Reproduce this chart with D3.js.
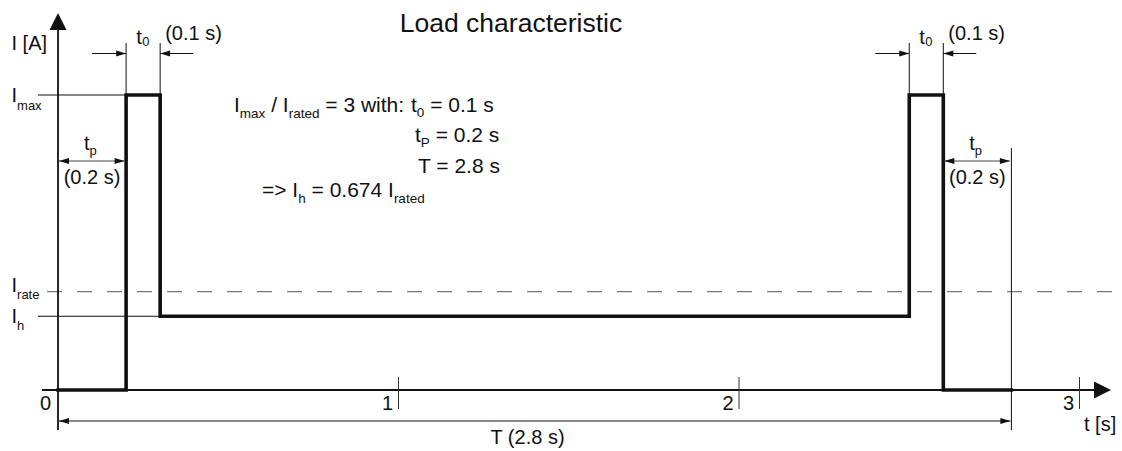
<!DOCTYPE html>
<html>
<head>
<meta charset="utf-8">
<script src="https://cdn.jsdelivr.net/npm/d3@7"></script>
<style>
  html, body { margin: 0; padding: 0; background: #fff; }
  svg text { font-family: "Liberation Sans", Arial, sans-serif; fill: #111; white-space: pre; }
</style>
</head>
<body>
<svg id="chart" width="1122" height="451"></svg>
<script>
// ---------- data ----------
const title = "Load characteristic";
const timeTicks = [0, 1, 2, 3];
const timeTickLabels = ["0", "1", "2", "3"];
// load current profile (multiples of I_rated), step curve
const loadTimes    = [0, 0.2, 0.2, 0.3, 0.3, 2.5, 2.5, 2.6, 2.6, 2.8];
const loadCurrents = [0, 0,   3,   3,   0.75, 0.75, 3,  3,   0,   0];
// reference levels
const levelNames  = ["max", "rate", "h"];
const levelValues = [3, 1, 0.75];
// timing parameters
const t0 = 0.1, tp = 0.2, T = 2.8;
const pulseStarts = [0.2, 2.5];

// ---------- scales ----------
const svg = d3.select("#chart");
const x = d3.scaleLinear().domain([0, 3]).range([58, 1079.5]);
const y = d3.scaleLinear().domain([0, 3]).range([390, 95]);

const FS = 20, SUB = 13;

function richText(g, xx, yy, parts, size, subSize, subDy, anchor) {
  const t = g.append("text").attr("x", xx).attr("y", yy)
    .attr("font-size", size).attr("text-anchor", anchor || "start");
  let shifted = false;
  parts.forEach(p => {
    const isSub = Array.isArray(p);
    const txt = isSub ? p[0] : p;
    const ts = t.append("tspan").text(txt);
    if (isSub) {
      ts.attr("font-size", subSize);
      if (!shifted) { ts.attr("dy", subDy); shifted = true; }
    } else if (shifted) {
      ts.attr("dy", -subDy); shifted = false;
    }
  });
  return t;
}

function arrowHead(g, px, py, dir, len, hw) {
  len = len || 10; hw = hw || 3;
  let pts;
  if (dir === "right") pts = [[px, py], [px - len, py - hw], [px - len, py + hw]];
  else if (dir === "left") pts = [[px, py], [px + len, py - hw], [px + len, py + hw]];
  else if (dir === "up") pts = [[px, py], [px - hw, py + len], [px + hw, py + len]];
  g.append("path").attr("d", d3.line()(pts) + "Z").attr("fill", "#111");
}

const g = svg.append("g");

// ---------- reference level lines ----------
// I_max thin line
g.append("line").attr("x1", 38).attr("x2", x(pulseStarts[0]))
  .attr("y1", y(levelValues[0])).attr("y2", y(levelValues[0]))
  .attr("stroke", "#111").attr("stroke-width", 1);
// I_rated dashed
g.append("line").attr("x1", 47).attr("x2", 1112)
  .attr("y1", y(levelValues[1])).attr("y2", y(levelValues[1]))
  .attr("stroke", "#777").attr("stroke-width", 1.3).attr("stroke-dasharray", "15,15");
// I_h thin line
g.append("line").attr("x1", 38).attr("x2", x(pulseStarts[0] + t0))
  .attr("y1", y(levelValues[2])).attr("y2", y(levelValues[2]))
  .attr("stroke", "#111").attr("stroke-width", 1);

// ---------- axes ----------
// x axis line
g.append("line").attr("x1", 42).attr("x2", 1096)
  .attr("y1", y(0)).attr("y2", y(0)).attr("stroke", "#111").attr("stroke-width", 1.8);
arrowHead(g, 1111, y(0), "right", 17, 8.5);
// y axis line
g.append("line").attr("x1", x(0)).attr("x2", x(0))
  .attr("y1", 28).attr("y2", 430).attr("stroke", "#111").attr("stroke-width", 1.8);
arrowHead(g, x(0), 13, "up", 17, 8.5);

// ticks
g.selectAll(".tick").data(timeTicks.filter(d => d > 0)).join("line")
  .attr("x1", d => x(d)).attr("x2", d => x(d))
  .attr("y1", 377).attr("y2", 409).attr("stroke", "#333").attr("stroke-width", 1);
g.selectAll(".ticklab").data(timeTicks).join("text")
  .attr("x", d => d === 0 ? x(d) - 7 : x(d) - 5.5)
  .attr("y", 410).attr("font-size", FS).attr("text-anchor", "end")
  .text((d, i) => timeTickLabels[i]);

g.append("text").attr("x", 1084).attr("y", 431).attr("font-size", FS).text("t [s]");
g.append("text").attr("x", 11.5).attr("y", 50).attr("font-size", FS).text("I [A]");

// level labels
richText(g, 11.5, 102, ["I", ["max"]], FS, SUB, 8);
richText(g, 11.5, 291.5, ["I", ["rate"]], FS, SUB, 7.5);
richText(g, 11.5, 323, ["I", ["h"]], FS, SUB, 7);

// ---------- load curve ----------
const pts = loadTimes.map((t, i) => [x(t), y(loadCurrents[i])]);
g.append("path").attr("d", d3.line()(pts))
  .attr("fill", "none").attr("stroke", "#111").attr("stroke-width", 3.6)
  .attr("stroke-linejoin", "miter").attr("stroke-linecap", "square");

// ---------- t0 dimensions ----------
pulseStarts.forEach(ps => {
  const xa = x(ps), xb = x(ps + t0);
  [xa, xb].forEach(xx => g.append("line").attr("x1", xx).attr("x2", xx)
    .attr("y1", 43).attr("y2", y(levelValues[0])).attr("stroke", "#111").attr("stroke-width", 1));
  const ay = 53.5;
  g.append("line").attr("x1", xa - 34).attr("x2", xa).attr("y1", ay).attr("y2", ay)
    .attr("stroke", "#111").attr("stroke-width", 1);
  arrowHead(g, xa, ay, "right");
  g.append("line").attr("x1", xb).attr("x2", xb + 33).attr("y1", ay).attr("y2", ay)
    .attr("stroke", "#111").attr("stroke-width", 1);
  arrowHead(g, xb, ay, "left");
  const tx = (xa + xb) / 2 - 7;
  g.append("text").attr("x", tx).attr("y", 43.5).attr("font-size", FS).text("t");
  g.append("text").attr("x", tx + 6).attr("y", 45.5).attr("font-size", SUB).text("0");
  g.append("text").attr("x", xb + 5).attr("y", 40).attr("font-size", FS).text("(" + t0 + " s)");
});

// ---------- tp dimensions ----------
const tpSpans = [[0, pulseStarts[0]], [pulseStarts[1] + t0, T]];
// extension line at T
g.append("line").attr("x1", x(T)).attr("x2", x(T)).attr("y1", 148).attr("y2", 430)
  .attr("stroke", "#111").attr("stroke-width", 1);
tpSpans.forEach(([a, b]) => {
  const xa = x(a) + 1, xb = x(b) - 1.5, ay = 161;
  g.append("line").attr("x1", xa).attr("x2", xb).attr("y1", ay).attr("y2", ay)
    .attr("stroke", "#444").attr("stroke-width", 1.2);
  arrowHead(g, xa, ay, "left");
  arrowHead(g, xb, ay, "right");
  const cx = (x(a) + x(b)) / 2;
  g.append("text").attr("x", cx - 8).attr("y", 150).attr("font-size", FS).text("t");
  g.append("text").attr("x", cx - 2.5).attr("y", 155).attr("font-size", SUB).text("p");
  g.append("text").attr("x", cx).attr("y", 184).attr("font-size", FS)
    .attr("text-anchor", "middle").text("(" + tp + " s)");
});

// ---------- T dimension ----------
{
  const xa = x(0) + 1, xb = x(T) - 1, ay = 421;
  g.append("line").attr("x1", xa).attr("x2", xb).attr("y1", ay).attr("y2", ay)
    .attr("stroke", "#111").attr("stroke-width", 1);
  arrowHead(g, xa, ay, "left");
  arrowHead(g, xb, ay, "right");
  g.append("text").attr("x", 527.5).attr("y", 444).attr("font-size", FS)
    .attr("text-anchor", "middle").text("T (" + T + " s)");
}

// ---------- title ----------
g.append("text").attr("x", 511).attr("y", 31.5).attr("font-size", 26.5)
  .attr("text-anchor", "middle").text(title);

// ---------- text block ----------
const BF = 21, BS = 13.5;
richText(g, 234, 111.5, ["I", ["max"], " / I", ["rated"], " = 3 with:"], BF, BS, 6);
richText(g, 411, 111.5, ["t", ["0"], " = " + t0 + " s"], BF, BS, 5);
richText(g, 415, 141.5, ["t", ["P"], " = " + tp + " s"], BF, BS, 5);
richText(g, 418, 172.5, ["T = " + T + " s"], BF, BS, 5);
richText(g, 262, 196.5, ["=> I", ["h"], " = 0.674 I", ["rated"]], BF, BS, 6);
</script>
</body>
</html>
